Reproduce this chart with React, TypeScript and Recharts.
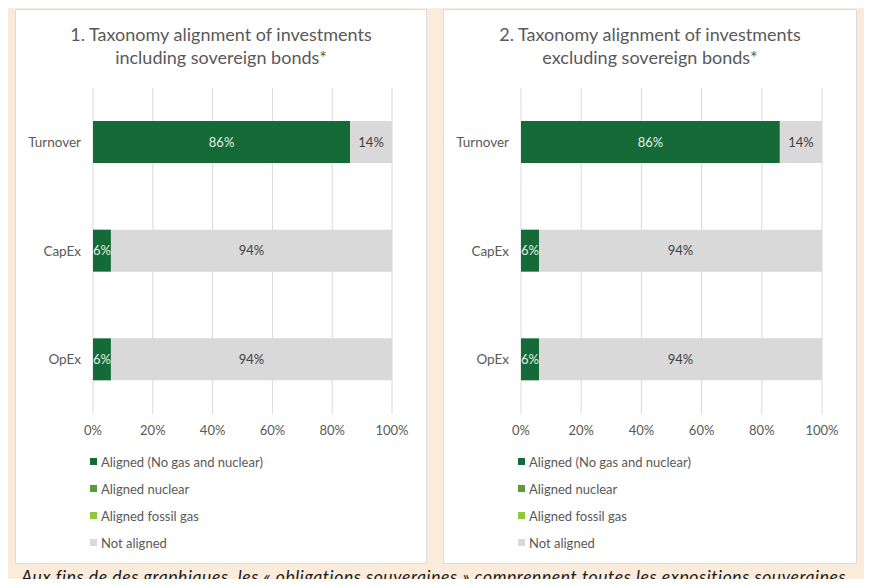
import React from "react";
import { BarChart, Bar, XAxis, YAxis, CartesianGrid, LabelList } from "recharts";

const categories = ["Turnover", "CapEx", "OpEx"];
const xTicks = [0, 20, 40, 60, 80, 100];

// chart 1 — including sovereign bonds
const incAligned = [86, 6, 6];
const incNuclear = [0, 0, 0];
const incGas = [0, 0, 0];
const incNotAligned = [14, 94, 94];

// chart 2 — excluding sovereign bonds
const excAligned = [86, 6, 6];
const excNuclear = [0, 0, 0];
const excGas = [0, 0, 0];
const excNotAligned = [14, 94, 94];

const SERIES = [
  { key: "aligned", name: "Aligned (No gas and nuclear)", color: "#146B37", label: "#E6EFE6" },
  { key: "nuclear", name: "Aligned nuclear", color: "#5E9A3A", label: "#FFFFFF" },
  { key: "gas", name: "Aligned fossil gas", color: "#92C83E", label: "#404040" },
  { key: "notAligned", name: "Not aligned", color: "#D9D9D9", label: "#404040" },
];

const FONT = "Lato, 'Open Sans', sans-serif";
const GREY = "#595959";

function buildRows(a: number[], n: number[], g: number[], na: number[]) {
  return categories.map((name, i) => ({
    name,
    aligned: a[i],
    nuclear: n[i],
    gas: g[i],
    notAligned: na[i],
  }));
}

function LegendList() {
  return (
    <div style={{ position: "absolute", left: 74, top: 438, fontFamily: FONT, fontSize: 13, color: GREY }}>
      {SERIES.map((s) => (
        <div key={s.key} style={{ display: "flex", alignItems: "center", height: 27 }}>
          <span style={{ width: 7, height: 7, background: s.color, marginRight: 4 }} />
          <span>{s.name}</span>
        </div>
      ))}
    </div>
  );
}

function Panel({ left, width, title, rows, ml }: { left: number; width: number; title: string[]; rows: any[]; ml: number }) {
  return (
    <div
      style={{
        position: "absolute",
        left,
        top: 9,
        width,
        height: 555,
        background: "#fff",
        border: "1px solid #D9DDE0",
        boxSizing: "border-box",
      }}
    >
      <div
        style={{
          position: "absolute",
          top: 13,
          left: 0,
          width: "100%",
          textAlign: "center",
          fontFamily: FONT,
          fontSize: 18,
          lineHeight: "23px",
          color: GREY,
        }}
      >
        {title.map((t) => (
          <div key={t}>{t}</div>
        ))}
      </div>
      <div style={{ position: "absolute", left: 0, top: 0 }}>
        <BarChart
          width={width - 2}
          height={440}
          data={rows}
          layout="vertical"
          margin={{ top: 78, right: 34, left: ml, bottom: 6 }}
          barSize={42}
        >
          <CartesianGrid horizontal={false} stroke="#D9D9D9" />
          <XAxis
            type="number"
            domain={[0, 100]}
            ticks={xTicks}
            tickFormatter={(v) => `${v}%`}
            axisLine={false}
            tickLine={false}
            tickMargin={6}
            height={30}
            tick={{ fontFamily: FONT, fontSize: 13, fill: GREY }}
            interval={0}
          />
          <YAxis
            type="category"
            dataKey="name"
            width={70}
            axisLine={false}
            tickLine={false}
            tickMargin={6}
            tick={{ fontFamily: FONT, fontSize: 13.5, fill: GREY }}
          />
          {SERIES.map((s) => (
            <Bar key={s.key} dataKey={s.key} name={s.name} stackId="a" fill={s.color} isAnimationActive={false}>
              <LabelList
                dataKey={s.key}
                position="center"
                formatter={(v: any) => (v ? `${v}%` : "")}
                style={{ fontFamily: FONT, fontSize: 13, fill: s.label }}
              />
            </Bar>
          ))}
        </BarChart>
      </div>
      <LegendList />
    </div>
  );
}

export default function App() {
  const incRows = buildRows(incAligned, incNuclear, incGas, incNotAligned);
  const excRows = buildRows(excAligned, excNuclear, excGas, excNotAligned);
  return (
    <div
      style={{
        position: "relative",
        width: 872,
        height: 587,
        margin: -8,
        background: "#FAEBDA",
        overflow: "hidden",
      }}
    >
      <Panel left={15} width={412} ml={7} title={["1. Taxonomy alignment of investments", "including sovereign bonds*"]} rows={incRows} />
      <Panel left={443} width={414} ml={7} title={["2. Taxonomy alignment of investments", "excluding sovereign bonds*"]} rows={excRows} />
      <div
        style={{
          position: "absolute",
          top: 566,
          left: 0,
          width: 872,
          textAlign: "center",
          fontFamily: FONT,
          fontStyle: "italic",
          fontSize: 17.5,
          letterSpacing: 0.6,
          color: "#1a1a1a",
          whiteSpace: "nowrap",
        }}
      >
        Aux fins de des graphiques, les « obligations souveraines » comprennent toutes les expositions souveraines.
      </div>
    </div>
  );
}
